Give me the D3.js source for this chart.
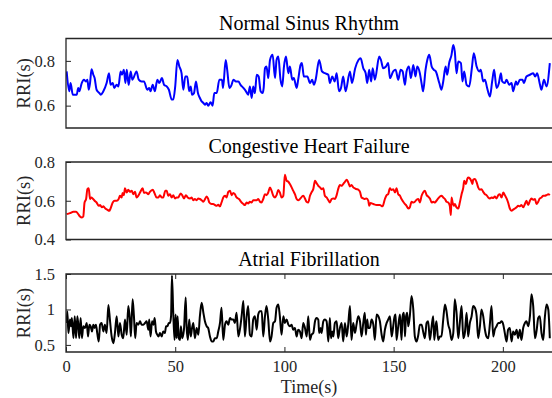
<!DOCTYPE html>
<html>
<head>
<meta charset="utf-8">
<script src="https://cdn.jsdelivr.net/npm/d3@7"></script>
<style>
  body { margin: 0; background: #fff; }
  svg { display: block; font-family: "Liberation Serif", "Times New Roman", serif; }
</style>
</head>
<body>
<div id="chart"></div>
<script>
// RR intervals (time in s, RRI in s)
const nsrTime = [0.3,1.5,2.1,3.1,4.9,5.6,6.1,7.2,8.2,9.2,9.8,10.4,11.0,11.7,12.5,13.1,14.0,15.3,15.9,17.1,18.6,19.7,20.4,21.4,22.1,23.2,24.0,25.0,25.6,26.5,27.2,27.8,28.7,29.6,30.4,32.3,33.3,34.6,35.7,37.2,38.1,38.7,39.7,40.7,41.8,42.7,43.9,44.9,46.1,47.1,48.4,49.1,50.0,51.0,51.9,52.9,53.7,54.6,55.5,56.4,57.1,57.7,58.6,59.5,60.4,61.3,62.1,62.9,63.6,64.4,65.1,66.2,67.1,67.9,69.0,70.2,71.4,71.9,73.1,73.8,74.8,75.8,76.6,77.8,78.9,79.9,81.2,82.4,83.4,84.2,85.0,85.7,86.5,87.3,88.2,89.1,90.0,90.5,91.1,91.8,92.6,93.4,94.6,95.7,96.4,97.2,98.2,99.0,99.8,100.7,101.8,102.5,103.6,104.3,105.6,106.3,107.4,108.0,108.9,110.5,111.7,112.7,113.5,114.3,115.9,117.2,118.5,120.1,120.8,121.9,123.0,123.9,125.0,125.9,126.9,128.0,130.0,130.9,132.4,133.9,134.9,136.1,137.2,137.9,138.8,139.7,140.4,141.4,143.4,144.2,145.2,146.5,147.5,148.3,149.8,150.9,152.1,153.2,154.1,155.2,155.9,157.0,157.9,159.0,160.0,160.8,162.0,162.9,163.5,164.6,165.4,166.3,167.4,168.4,169.3,170.9,171.9,172.7,173.8,174.5,175.4,176.5,177.3,178.0,178.8,179.6,180.8,181.5,182.3,183.4,184.6,185.8,186.7,188.0,189.2,189.9,191.0,191.8,192.8,194.1,195.1,196.0,197.1,198.2,199.1,199.7,200.9,201.7,202.9,204.0,204.7,206.0,206.6,207.8,209.0,209.6,210.8,212.4,213.9,214.8,215.7,217.0,217.7,218.8,220.0,221.5];
const nsrRRI = [0.753,0.664,0.701,0.649,0.649,0.679,0.664,0.701,0.716,0.708,0.716,0.671,0.701,0.763,0.738,0.723,0.671,0.656,0.649,0.664,0.701,0.745,0.693,0.701,0.679,0.693,0.686,0.753,0.738,0.760,0.701,0.760,0.693,0.753,0.716,0.753,0.716,0.708,0.708,0.671,0.679,0.664,0.693,0.664,0.716,0.701,0.723,0.693,0.686,0.671,0.627,0.627,0.686,0.804,0.775,0.745,0.671,0.730,0.730,0.664,0.686,0.649,0.656,0.708,0.656,0.634,0.619,0.612,0.604,0.612,0.600,0.615,0.600,0.656,0.656,0.716,0.716,0.679,0.804,0.760,0.679,0.693,0.716,0.708,0.708,0.693,0.679,0.664,0.649,0.686,0.634,0.686,0.656,0.738,0.730,0.664,0.656,0.679,0.767,0.775,0.723,0.804,0.827,0.723,0.804,0.819,0.716,0.686,0.775,0.819,0.745,0.775,0.716,0.723,0.679,0.716,0.782,0.790,0.730,0.730,0.701,0.716,0.693,0.716,0.804,0.753,0.745,0.738,0.701,0.730,0.708,0.745,0.664,0.679,0.730,0.664,0.753,0.701,0.767,0.804,0.812,0.767,0.745,0.701,0.760,0.708,0.767,0.716,0.819,0.804,0.767,0.775,0.790,0.723,0.753,0.760,0.716,0.760,0.753,0.693,0.753,0.775,0.723,0.782,0.730,0.775,0.745,0.693,0.664,0.760,0.804,0.827,0.775,0.760,0.753,0.701,0.671,0.708,0.775,0.738,0.790,0.827,0.871,0.841,0.745,0.797,0.790,0.708,0.753,0.693,0.686,0.767,0.834,0.775,0.753,0.760,0.708,0.716,0.679,0.641,0.708,0.760,0.679,0.701,0.745,0.708,0.701,0.716,0.693,0.701,0.664,0.708,0.693,0.716,0.716,0.701,0.730,0.738,0.745,0.730,0.745,0.693,0.671,0.716,0.686,0.790];

const chfTime = [0.3,1.8,3.4,4.6,5.6,6.4,7.3,7.9,8.5,9.2,9.8,10.4,11.0,11.6,12.2,13.1,14.0,15.0,15.6,16.5,17.1,18.0,18.9,19.8,20.4,21.4,22.3,23.2,24.1,24.7,25.5,25.9,26.5,27.0,27.8,28.5,29.3,30.1,30.8,31.6,32.3,33.1,33.9,35.1,35.7,36.6,37.7,38.4,39.7,40.4,41.5,42.3,43.0,43.8,44.5,45.5,46.1,46.8,47.6,48.4,49.1,49.9,50.6,51.4,52.5,53.2,54.0,54.9,55.7,56.8,57.5,58.3,59.0,59.8,60.6,61.3,62.1,62.9,63.8,64.4,65.0,65.6,66.7,67.4,68.2,69.0,69.7,70.5,71.2,72.0,72.8,73.5,74.3,75.1,75.8,76.6,77.3,78.1,79.2,80.4,81.2,81.9,82.7,83.4,84.2,85.0,85.7,87.3,88.0,88.8,89.5,90.3,91.1,91.8,92.6,93.4,94.1,94.9,95.7,96.4,97.2,97.9,98.7,99.5,100.2,101.0,101.8,102.5,103.3,104.0,104.8,105.6,106.3,107.1,108.6,109.4,110.1,110.9,111.7,112.4,113.2,114.0,114.7,115.5,116.3,117.0,117.8,118.5,119.3,120.1,120.8,121.6,122.4,123.1,123.9,124.6,125.4,126.2,126.9,127.7,128.5,129.2,130.0,130.7,131.5,132.3,133.0,133.8,134.6,135.3,136.1,136.8,137.6,138.4,138.8,139.4,140.7,142.2,143.7,144.9,146.0,146.8,147.5,148.3,149.1,149.8,150.6,151.3,152.1,152.9,153.6,154.4,155.2,155.9,156.7,157.4,158.2,159.0,159.7,160.5,161.3,162.0,162.8,163.5,164.3,165.1,165.8,166.6,167.4,168.1,168.9,169.6,170.4,171.2,171.9,172.7,173.5,174.2,175.0,175.7,176.2,176.5,177.0,177.6,178.0,178.8,179.6,180.3,181.1,181.9,182.3,183.1,183.7,184.1,184.9,185.7,186.1,186.4,187.2,188.0,188.7,189.5,190.2,191.0,191.8,192.5,193.3,194.1,194.8,195.6,196.3,197.1,197.9,198.6,199.4,200.2,200.9,201.7,202.4,203.2,204.0,204.7,205.5,206.3,207.0,207.8,208.5,209.3,210.1,210.8,211.6,212.4,213.1,213.9,214.7,215.4,216.2,216.9,217.7,218.5,219.2,220.0,220.8,221.5];
const chfRRI = [0.531,0.536,0.543,0.543,0.531,0.519,0.514,0.519,0.591,0.609,0.660,0.664,0.609,0.617,0.612,0.600,0.591,0.574,0.578,0.566,0.571,0.560,0.554,0.548,0.560,0.591,0.600,0.600,0.609,0.626,0.617,0.640,0.629,0.664,0.643,0.657,0.646,0.652,0.634,0.646,0.617,0.626,0.643,0.664,0.640,0.643,0.634,0.646,0.657,0.643,0.617,0.617,0.629,0.617,0.617,0.652,0.652,0.626,0.634,0.617,0.629,0.612,0.617,0.617,0.638,0.629,0.612,0.629,0.617,0.612,0.617,0.603,0.609,0.603,0.612,0.609,0.603,0.595,0.612,0.622,0.612,0.591,0.583,0.583,0.578,0.574,0.579,0.571,0.591,0.617,0.626,0.617,0.646,0.652,0.629,0.640,0.634,0.617,0.609,0.591,0.583,0.578,0.591,0.586,0.595,0.591,0.603,0.603,0.609,0.595,0.591,0.609,0.634,0.629,0.643,0.669,0.652,0.626,0.617,0.629,0.655,0.643,0.617,0.626,0.734,0.703,0.698,0.686,0.669,0.652,0.634,0.609,0.603,0.609,0.626,0.612,0.595,0.591,0.626,0.643,0.660,0.703,0.691,0.677,0.669,0.660,0.664,0.626,0.617,0.603,0.591,0.609,0.612,0.609,0.629,0.660,0.681,0.677,0.686,0.698,0.708,0.695,0.674,0.681,0.669,0.664,0.660,0.657,0.646,0.617,0.612,0.609,0.612,0.600,0.574,0.588,0.583,0.578,0.578,0.571,0.609,0.629,0.634,0.664,0.655,0.660,0.643,0.664,0.634,0.626,0.609,0.595,0.583,0.574,0.560,0.566,0.595,0.591,0.595,0.605,0.609,0.591,0.626,0.643,0.652,0.629,0.622,0.612,0.591,0.595,0.591,0.600,0.612,0.622,0.626,0.617,0.609,0.595,0.591,0.574,0.526,0.617,0.591,0.574,0.583,0.566,0.560,0.591,0.634,0.669,0.703,0.686,0.712,0.720,0.715,0.698,0.686,0.708,0.712,0.695,0.669,0.657,0.660,0.646,0.634,0.629,0.617,0.612,0.617,0.614,0.622,0.612,0.629,0.634,0.617,0.643,0.629,0.612,0.591,0.560,0.548,0.554,0.560,0.566,0.574,0.571,0.578,0.566,0.583,0.600,0.578,0.600,0.612,0.605,0.609,0.583,0.595,0.612,0.617,0.626,0.626,0.629,0.634,0.629];

const afTime = [0.3,0.6,1.1,1.8,2.3,2.7,3.4,4.0,4.6,5.2,5.8,6.1,6.7,7.3,7.9,8.7,9.5,10.1,10.7,11.3,11.9,12.5,13.1,13.7,14.3,15.0,15.6,16.3,17.1,17.8,18.6,19.4,20.1,20.9,21.7,22.4,23.2,24.0,24.7,25.5,26.2,27.0,27.8,28.5,29.3,29.7,30.5,31.1,31.7,32.3,33.1,33.9,34.6,35.4,36.2,36.9,37.7,38.1,38.7,39.4,40.0,40.6,41.2,41.8,42.4,43.0,43.8,44.5,45.3,45.8,46.4,47.1,47.6,48.1,48.5,49.1,49.7,50.2,50.6,51.1,51.6,52.2,52.6,53.2,54.0,54.8,55.2,55.8,56.4,57.1,57.7,58.3,59.0,59.8,60.6,61.3,62.1,62.9,63.6,64.4,65.1,65.9,66.7,67.4,68.2,69.0,69.7,70.5,71.2,72.0,72.8,73.5,74.3,75.1,75.8,76.6,77.3,78.1,78.9,79.6,80.4,81.2,81.9,82.7,83.4,84.2,85.0,85.7,86.5,87.3,88.0,88.8,89.6,90.3,91.1,91.8,92.6,93.4,94.1,94.9,95.7,96.4,97.2,97.9,98.7,99.5,100.2,101.0,101.8,102.5,103.3,104.0,104.8,105.6,106.3,107.1,107.9,108.6,109.4,110.2,110.9,111.7,112.4,113.2,114.0,114.7,115.5,115.9,116.6,117.0,117.8,118.5,119.3,120.1,120.8,121.3,121.9,122.4,123.1,123.9,124.6,125.4,126.2,126.9,127.7,128.5,129.2,130.0,130.7,131.5,132.3,133.0,133.8,134.6,135.3,136.1,136.8,137.3,137.9,138.4,139.1,139.9,140.7,141.4,142.2,143.0,143.7,144.5,145.2,146.0,146.8,147.5,148.3,149.1,149.8,150.3,150.9,151.3,152.1,152.9,153.6,154.1,154.7,155.2,155.6,156.2,156.7,157.4,158.2,159.0,159.7,160.5,161.3,162.0,162.8,163.5,164.3,165.1,165.8,166.6,167.4,168.1,168.6,169.2,169.6,170.4,171.2,171.9,172.7,173.5,174.2,175.0,175.7,176.5,177.3,178.0,178.8,179.6,180.3,181.1,181.9,182.6,183.4,184.1,184.9,185.7,186.4,187.2,188.0,188.7,189.5,190.2,191.0,191.8,192.5,193.3,194.1,194.8,195.6,196.3,197.1,197.9,198.6,199.4,200.2,200.9,201.7,202.4,203.2,204.0,204.7,205.5,206.3,207.0,207.8,208.5,209.3,210.1,210.8,211.6,212.4,213.1,213.9,214.7,215.4,216.2,216.9,217.7,218.5,219.2,220.0,220.8,221.5];
const afRRI = [0.810,0.976,0.667,0.857,0.762,0.881,0.595,0.905,0.595,0.905,0.714,0.595,0.881,0.595,0.762,0.738,0.810,0.619,0.786,0.762,0.690,0.786,0.738,0.786,0.667,0.548,0.786,0.810,0.690,0.786,0.667,1.062,0.857,0.619,0.524,0.667,0.905,0.619,0.810,0.643,0.595,0.857,0.643,1.048,0.833,0.619,1.143,0.905,0.595,0.810,0.786,0.833,0.786,0.786,0.810,0.833,0.714,0.857,0.619,0.833,0.786,0.881,0.690,0.643,0.619,0.667,0.619,0.690,0.667,0.762,0.762,0.810,0.810,0.905,1.476,0.952,0.571,0.929,0.595,0.905,0.595,0.571,0.762,0.595,0.714,1.167,0.762,0.571,0.857,0.619,0.738,0.810,0.595,0.738,0.643,0.905,1.095,0.952,0.833,0.762,0.738,0.619,0.548,0.548,0.595,0.595,0.690,0.810,1.024,0.571,0.786,0.833,0.786,0.881,0.857,0.857,0.810,0.952,0.619,0.714,0.905,1.119,0.619,0.905,1.048,0.643,0.619,0.857,0.905,0.714,0.929,0.976,0.976,0.619,0.905,1.048,0.857,0.548,0.619,0.810,0.833,1.024,1.071,0.905,0.643,0.905,0.810,0.857,0.786,0.762,0.786,0.714,0.738,0.619,0.714,0.690,0.595,0.810,0.738,0.619,0.905,0.571,0.643,0.667,0.833,0.881,0.857,0.667,0.738,0.667,0.833,0.857,0.833,0.548,0.881,0.595,0.690,0.619,0.810,0.833,0.595,0.738,0.810,0.548,0.810,0.619,0.786,1.048,0.571,0.810,0.667,0.786,0.905,0.833,0.619,0.810,0.952,0.643,0.857,0.738,0.738,0.857,0.786,0.571,0.929,0.905,0.833,0.643,0.548,0.714,0.810,0.857,0.905,0.619,0.762,0.881,0.929,0.571,0.762,0.929,0.571,0.905,0.952,0.619,0.881,0.952,0.762,0.905,1.190,1.000,0.619,0.548,0.643,0.786,0.786,0.690,0.595,0.810,0.833,0.571,0.762,0.905,0.571,0.762,0.833,0.571,0.619,0.619,0.857,1.071,0.976,0.786,0.714,0.571,0.667,1.143,0.952,0.595,0.810,1.048,0.595,0.667,0.952,0.619,0.810,0.905,1.048,1.024,0.905,0.595,0.762,1.000,0.905,0.714,0.619,0.595,0.810,1.048,0.619,0.714,0.762,0.810,0.810,0.833,0.786,0.667,0.548,0.714,0.738,0.548,0.690,0.643,0.714,0.595,0.714,0.571,0.738,0.810,0.833,0.762,0.905,1.214,1.048,0.595,0.690,0.881,0.905,0.667,0.571,0.881,1.071,1.000,0.595];

const titles = ['Normal Sinus Rhythm', 'Congestive Heart Failure', 'Atrial Fibrillation'];
const timeTicks = [0, 50, 100, 150, 200];
const nsrTicks = [0.6, 0.8];
const chfTicks = [0.4, 0.6, 0.8];
const afTicks = [0.5, 1, 1.5];

const width = 552, height = 398;
const left = 66, right = 552;
const axisColor = '#262626';

const svg = d3.select('#chart').append('svg').attr('width', width).attr('height', height);

const x = d3.scaleLinear().domain([0, 222.5]).range([left, right]);

const panels = [
  { title: titles[0], time: nsrTime, rri: nsrRRI, ticks: nsrTicks, domain: [0.5, 0.9], top: 38.5, bottom: 128, color: '#0000ff', titleY: 30, xLabels: false },
  { title: titles[1], time: chfTime, rri: chfRRI, ticks: chfTicks, domain: [0.4, 0.8], top: 162, bottom: 239.5, color: '#ff0000', titleY: 153, xLabels: false },
  { title: titles[2], time: afTime, rri: afRRI, ticks: afTicks, domain: [0.4, 1.5], top: 274, bottom: 352, color: '#000000', titleY: 266, xLabels: true }
];

panels.forEach((p, i) => {
  const y = d3.scaleLinear().domain(p.domain).range([p.bottom, p.top]);
  const g = svg.append('g');

  g.append('clipPath').attr('id', 'clip' + i)
    .append('rect').attr('x', left).attr('y', p.top).attr('width', right - left + 2).attr('height', p.bottom - p.top);

  const line = d3.line().curve(d3.curveMonotoneX)
    .x((d, j) => x(p.time[j])).y(d => y(d));
  g.append('path').datum(p.rri)
    .attr('clip-path', `url(#clip${i})`)
    .attr('fill', 'none').attr('stroke', p.color).attr('stroke-width', 2)
    .attr('stroke-linejoin', 'round')
    .attr('d', line);

  // y axis, ticks pointing inward
  const yAxis = g.append('g').attr('transform', `translate(${left},0)`)
    .call(d3.axisLeft(y).tickValues(p.ticks).tickSizeInner(-5).tickSizeOuter(0).tickPadding(11)
      .tickFormat(d => String(d)));
  yAxis.select('.domain').remove();
  yAxis.selectAll('line').attr('stroke', axisColor).attr('stroke-width', 1);
  yAxis.selectAll('text').attr('fill', axisColor).style('font-size', '16.5px')
    .style('font-family', '"Liberation Serif", serif');

  if (p.xLabels) {
    const xb = g.append('g').attr('transform', `translate(0,${p.bottom})`)
      .call(d3.axisBottom(x).tickValues(timeTicks).tickSizeInner(-5).tickSizeOuter(0).tickPadding(8));
    xb.select('.domain').remove();
    xb.selectAll('line').attr('stroke', axisColor);
    xb.selectAll('text').attr('fill', axisColor).style('font-size', '16.5px')
      .style('font-family', '"Liberation Serif", serif');
    const xt = g.append('g').attr('transform', `translate(0,${p.top})`)
      .call(d3.axisTop(x).tickValues(timeTicks).tickSizeInner(-5).tickSizeOuter(0).tickFormat(''));
    xt.select('.domain').remove();
    xt.selectAll('line').attr('stroke', axisColor);
  }

  // box: top, left, bottom (right edge falls outside the picture)
  g.append('path')
    .attr('d', `M${right + 2},${p.top}H${left}V${p.bottom}H${right + 2}`)
    .attr('fill', 'none').attr('stroke', axisColor).attr('stroke-width', 1.3);

  g.append('text').attr('x', (left + right) / 2).attr('y', p.titleY)
    .attr('text-anchor', 'middle').attr('fill', '#000')
    .style('font-size', '20px').text(p.title);

  g.append('text')
    .attr('transform', `translate(30,${(p.top + p.bottom) / 2}) rotate(-90)`)
    .attr('text-anchor', 'middle').attr('fill', axisColor)
    .style('font-size', '18.5px').text('RRI(s)');
});

svg.append('text').attr('x', (left + right) / 2).attr('y', 393)
  .attr('text-anchor', 'middle').attr('fill', axisColor)
  .style('font-size', '18px').text('Time(s)');
</script>
</body>
</html>
